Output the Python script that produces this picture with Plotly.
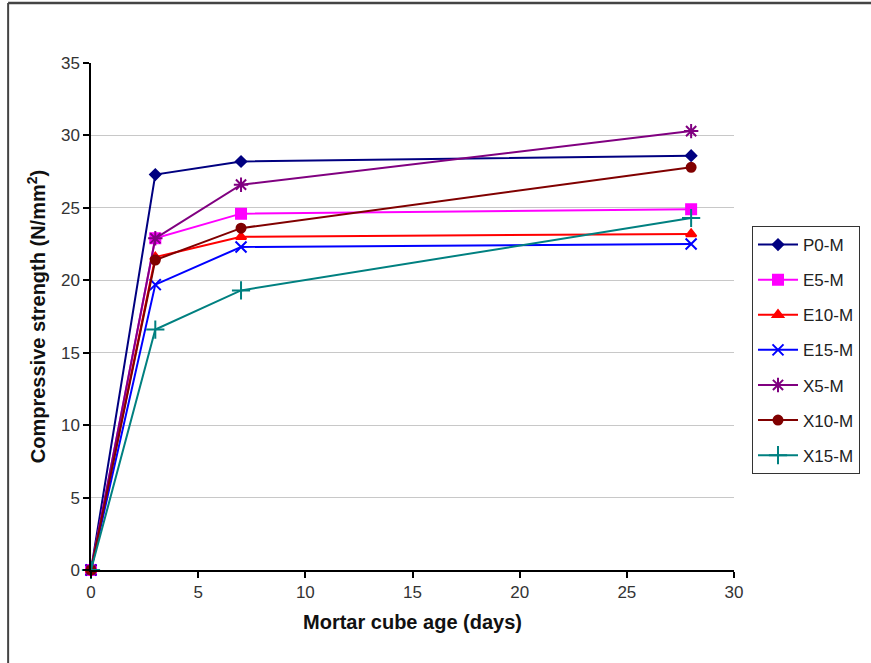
import plotly.graph_objects as go

days = [0, 3, 7, 28]
series_names = ["P0-M", "E5-M", "E10-M", "E15-M", "X5-M", "X10-M", "X15-M"]
p0 = [0, 27.3, 28.2, 28.6]
e5 = [0, 22.9, 24.6, 24.9]
e10 = [0, 21.6, 23.0, 23.2]
e15 = [0, 19.7, 22.3, 22.5]
x5 = [0, 22.9, 26.6, 30.3]
x10 = [0, 21.4, 23.6, 27.8]
x15 = [0, 16.6, 19.3, 24.3]
values = [p0, e5, e10, e15, x5, x10, x15]

colors = ["#000080", "#FF00FF", "#FF0000", "#0000FF", "#800080", "#800000", "#008080"]
symbols = ["diamond", "square", "triangle-up", "x-thin-open", "asterisk-open", "circle", "cross-thin-open"]
sizes = [8, 10, 9, 11, 12, 9, 13]

fig = go.Figure()
for name, vals, c, s, sz in zip(series_names, values, colors, symbols, sizes):
    fig.add_trace(go.Scatter(
        x=days, y=vals, name=name, mode="lines+markers",
        legendgroup=name, cliponaxis=False,
        line=dict(color=c, width=2),
        marker=dict(symbol=s, size=sz, color=c, line=dict(color=c, width=2)),
    ))

W, H = 871, 663
L, R, T, B = 91, 735, 63, 570

def px(xp):
    return (xp - L) / (R - L)

def py(yp):
    return (B - yp) / (B - T)

fig.update_layout(
    width=W, height=H,
    margin=dict(l=L, r=W - R, t=T, b=H - B),
    paper_bgcolor="white", plot_bgcolor="white",
    font=dict(family="Liberation Sans, Arial, sans-serif", color="#333333", size=17),
    showlegend=True,
    legend=dict(
        x=px(752), y=py(226), xanchor="left", yanchor="top",
        bordercolor="#333333", borderwidth=1, bgcolor="white",
        font=dict(size=17, color="#222222"),
        tracegroupgap=10,
        itemwidth=40,
    ),
    xaxis=dict(
        range=[0, 30], tickvals=[0, 5, 10, 15, 20, 25, 30],
        showgrid=False, zeroline=False,
        showline=True, linecolor="black", linewidth=1.5,
        ticks="outside", ticklen=6, tickcolor="black", tickwidth=1.5,
        tickfont=dict(size=17, color="#333333"),
        title=dict(text="<b>Mortar cube age (days)</b>", font=dict(size=20, color="#111111"), standoff=14),
    ),
    yaxis=dict(
        range=[0, 35], tickvals=[0, 5, 10, 15, 20, 25, 30, 35],
        showgrid=True, gridcolor="#C8C8C8", gridwidth=1, zeroline=False,
        showline=True, linecolor="black", linewidth=1.5,
        ticks="outside", ticklen=6, tickcolor="black", tickwidth=1.5,
        tickfont=dict(size=17, color="#333333"),
        title=dict(text="<b>Compressive strength (N/mm<sup>2</sup>)</b>", font=dict(size=20, color="#111111"), standoff=10),
    ),
)

# outer frame (left and top edges visible)
fig.add_shape(type="line", xref="paper", yref="paper",
              x0=px(8), x1=px(8), y0=py(670), y1=py(3),
              line=dict(color="#444444", width=2))
fig.add_shape(type="line", xref="paper", yref="paper",
              x0=px(8), x1=px(880), y0=py(3), y1=py(3),
              line=dict(color="#444444", width=2.5))

fig.write_html("out.html", config={"displayModeBar": False},
               post_script="document.body.style.margin='0';")
